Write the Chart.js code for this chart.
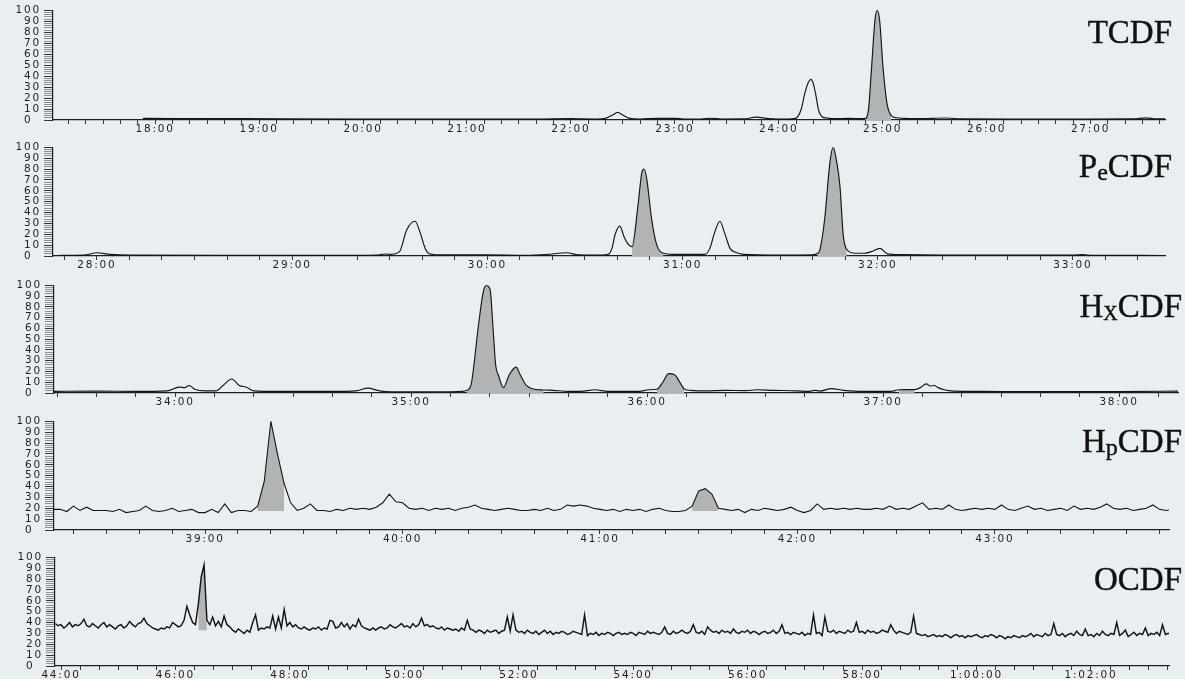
<!DOCTYPE html>
<html>
<head>
<meta charset="utf-8">
<script src="https://cdn.jsdelivr.net/npm/chart.js@4.4.1/dist/chart.umd.min.js"></script>
<style>
  html, body { margin: 0; padding: 0; background: #e9eef1; overflow: hidden; }
  #page { position: relative; width: 1185px; height: 679px; }
  #page canvas { position: absolute; left: 0; }
  .name {
    position: absolute;
    font-family: "Liberation Serif", "Times New Roman", serif;
    font-size: 33px;
    line-height: 33px;
    color: #111;
    -webkit-text-stroke: 0.4px #111;
    white-space: nowrap;
  }
  .name span { font-size: 24px; position: relative; top: 3px; }
  .name span.x { font-size: 20px; }
</style>
</head>
<body>
<div id="page">
  <canvas id="chart1"></canvas>
  <canvas id="chart2"></canvas>
  <canvas id="chart3"></canvas>
  <canvas id="chart4"></canvas>
  <canvas id="chart5"></canvas>
  <div class="name" style="right:13px; top:16px">TCDF</div>
  <div class="name" style="right:13px; top:150px">P<span>e</span>CDF</div>
  <div class="name" style="right:3px; top:290px">H<span class="x">X</span>CDF</div>
  <div class="name" style="right:3px; top:425px">H<span>p</span>CDF</div>
  <div class="name" style="right:3px; top:563px">OCDF</div>
</div>
<script>
// retention time in seconds, relative abundance in %
const tcdfTime = [1073, 1130, 1200, 1300, 1320, 1335, 1340, 1344, 1347, 1350, 1354, 1360, 1370, 1380, 1385,
  1395, 1401, 1407, 1420, 1427, 1434, 1445, 1449, 1451, 1453, 1455, 1457, 1458.5, 1460, 1461.5, 1463, 1465,
  1468, 1472, 1480, 1489.8, 1491.7, 1493.6, 1495.5, 1496.8, 1498.3, 1500.2, 1502.5, 1505, 1508, 1512,
  1520, 1537, 1545, 1600, 1645, 1652, 1658, 1665];
const tcdfValue = [1.5, 1.2, 0.8, 0.8, 1.2, 0.8, 1.5, 4.5, 7, 4.5, 1.5, 0.9, 1.5, 1.5, 0.9,
  0.9, 1.6, 0.9, 1, 2.6, 1.3, 0.8, 1.2, 3, 10, 24, 34, 37, 33, 22, 9, 3,
  1.8, 1.3, 1.5, 1.3, 8, 48, 90, 100, 90, 48, 15, 4, 2, 1.5,
  1.2, 1.8, 1.0, 0.9, 1.0, 2.0, 1.0, 1.0];
const tcdfShade = [[1489.8, 1505]];

const pecdfTime = [1668, 1676, 1680, 1684, 1690, 1720, 1760, 1766, 1768.5, 1770, 1773, 1775.2, 1777.8, 1779.3,
  1780.9, 1782.4, 1786, 1800, 1812, 1818, 1824.5, 1828, 1835, 1837.2, 1838.3, 1839.3, 1840.7, 1842, 1843,
  1844.5, 1846.4, 1847.5, 1848.2, 1849, 1850.5, 1852.1, 1854.1, 1857, 1862.8, 1866.8, 1868.4, 1869.9,
  1871.5, 1873, 1874.6, 1876.1, 1878.7, 1890, 1900, 1901.5, 1902.2, 1903.7, 1905.3, 1906.3, 1907.3, 1908.4,
  1909.4, 1910.5, 1913, 1916, 1918, 1920.7, 1923, 1927, 1940, 1980, 1983, 1986, 2010];
const pecdfValue = [0.5, 0.8, 3, 1.5, 0.8, 0.7, 0.6, 0.8, 1.8, 1.5, 4, 24, 32, 22,
  7, 1.8, 1, 1, 0.6, 1.3, 3, 1.0, 0.8, 1.5, 7, 20, 27.5, 18, 12,
  8.5, 49, 77, 80, 71, 34, 10, 2.5, 1.5, 1.5, 1.5, 7, 22,
  32, 20.6, 7, 3.6, 1.5, 0.8, 1, 2.5, 5.5, 34, 86, 100, 88, 64,
  19, 6, 2.5, 2.5, 4, 7, 2, 1.2, 0.8, 0.8, 1.3, 0.6, 0.5];
const pecdfShade = [[1844.5, 1854.1], [1901.5, 1910.5]];

const hxcdfTime = [2009, 2020, 2030, 2038, 2041, 2042.5, 2043.5, 2045, 2047.5, 2050.5, 2052.2, 2054.4, 2056.3,
  2058, 2060, 2066, 2080, 2086, 2089, 2092, 2095, 2110, 2113, 2114.2, 2115.2, 2117.1, 2118.3, 2119.1, 2120.1,
  2120.8, 2121.5, 2122.2, 2123.5, 2124.9, 2126.7, 2127.8, 2129.3, 2130.8, 2133.7, 2136, 2140, 2143, 2146.8,
  2150, 2158, 2160.4, 2162.5, 2164, 2165.5, 2167, 2168.5, 2169.5, 2171, 2175, 2180, 2185, 2188, 2192, 2198,
  2201, 2202.5, 2204, 2206.8, 2210, 2215, 2222, 2224, 2228, 2229.5, 2231, 2232, 2233, 2234, 2235.5, 2238,
  2245, 2260, 2280, 2296];
const hxcdfValue = [1.5, 1.8, 1.5, 2, 5.5, 5, 7, 3.5, 2, 2, 7, 13, 7,
  5.5, 2, 1.5, 1.5, 2, 4.5, 2, 1.2, 1.2, 1.5, 2.5, 7, 62, 93, 100, 96,
  62, 26, 16.5, 5, 16.5, 24, 16.5, 7, 4, 2.8, 2.5, 1.5, 1.5, 3,
  1.5, 1.5, 3, 3.5, 10, 18, 17, 9, 3.5, 2.5, 2, 2.5, 2.2, 3, 2.5, 2,
  1.5, 2.5, 1.8, 4, 2.5, 1.5, 1.5, 3, 3.2, 5, 8.5, 6.5, 7, 5, 3, 1.8,
  1.5, 1.3, 1.3, 1.8];
const hxcdfShade = [[2114.2, 2133.7], [2162.5, 2169.5], [2224, 2228]];

// HpCDF trace, one reading every 2 s from 2294 s
const hpcdfStart = 2294;
const hpcdfStep = 2;
const hpcdfValue = [19, 19, 17, 22, 18, 21, 18, 18, 18, 17, 19, 16, 17, 18, 22, 18, 17, 18, 20, 17,
  18, 19, 16, 16, 19, 16, 24, 16, 18, 18, 17, 22, 45, 100, 70, 43, 25, 18, 20, 24,
  18, 18, 17, 19, 18, 20, 19, 20, 19, 21, 25, 33, 26, 25, 20, 19, 20, 18, 20, 19,
  20, 18, 20, 21, 23, 20, 19, 18, 19, 20, 19, 18, 18, 19, 18, 20, 18, 19, 23, 22,
  23, 22, 20, 19, 18, 19, 17, 19, 18, 19, 17, 19, 20, 18, 17, 17, 18, 22, 36, 38,
  33, 20, 19, 18, 19, 16, 19, 18, 20, 19, 18, 19, 21, 18, 16, 18, 24, 19, 20, 19,
  20, 19, 20, 19, 19, 20, 19, 22, 19, 20, 19, 22, 25, 19, 20, 19, 23, 19, 18, 19,
  20, 19, 20, 19, 23, 19, 18, 20, 22, 19, 20, 18, 19, 20, 18, 22, 19, 20, 19, 21,
  24, 20, 19, 20, 18, 19, 20, 23, 19, 18, 19];
const hpcdfShade = [[2356, 2364], [2488, 2496]];

// OCDF trace, one reading every 3 s from 2634 s
const ocdfStart = 2634;
const ocdfStep = 3;
const ocdfValue = [39, 37, 38, 35, 37, 40, 36, 38, 37, 39, 43, 37, 36, 39, 37, 35, 38, 40, 36, 38,
  36, 34, 37, 38, 35, 37, 41, 38, 36, 39, 40, 44, 39, 37, 35, 34, 33, 35, 34, 36,
  35, 40, 38, 36, 37, 42, 55, 47, 40, 38, 57, 82, 93, 42, 38, 45, 37, 41, 36, 46,
  38, 36, 33, 31, 34, 32, 30, 33, 31, 40, 47, 33, 35, 34, 36, 35, 46, 34, 45, 35,
  52, 37, 40, 36, 38, 35, 34, 36, 34, 33, 35, 34, 36, 33, 35, 34, 42, 41, 35, 36,
  40, 36, 39, 34, 38, 36, 43, 37, 35, 34, 33, 35, 33, 35, 36, 34, 35, 38, 36, 35,
  37, 39, 36, 37, 35, 39, 36, 38, 44, 37, 38, 36, 37, 35, 34, 36, 33, 35, 34, 33,
  34, 32, 35, 33, 42, 34, 33, 31, 33, 32, 30, 33, 31, 32, 33, 30, 32, 33, 45, 32,
  47, 33, 31, 32, 30, 33, 31, 30, 32, 29, 31, 33, 30, 32, 29, 31, 30, 32, 31, 29,
  30, 32, 31, 30, 29, 47, 28, 30, 29, 31, 28, 30, 29, 31, 30, 28, 30, 31, 29, 30,
  29, 31, 30, 28, 31, 30, 29, 32, 30, 31, 30, 29, 31, 36, 30, 29, 32, 30, 31, 33,
  31, 30, 32, 38, 31, 30, 32, 29, 36, 33, 31, 32, 30, 33, 31, 32, 30, 34, 31, 30,
  32, 31, 33, 30, 32, 31, 29, 31, 32, 30, 31, 33, 30, 32, 38, 30, 31, 29, 31, 30,
  29, 31, 28, 30, 29, 47, 30, 31, 28, 45, 32, 31, 33, 30, 32, 31, 30, 33, 31, 32,
  40, 31, 32, 30, 33, 31, 32, 30, 31, 33, 32, 31, 38, 33, 30, 32, 31, 30, 29, 31,
  46, 30, 29, 28, 29, 27, 28, 29, 27, 28, 27, 29, 28, 26, 28, 29, 27, 28, 26, 28,
  27, 28, 29, 27, 26, 28, 27, 29, 28, 26, 28, 27, 25, 27, 26, 28, 27, 26, 28, 27,
  28, 30, 27, 29, 28, 27, 30, 28, 29, 39, 29, 28, 30, 27, 29, 30, 28, 32, 29, 28,
  34, 28, 29, 27, 30, 28, 32, 29, 28, 30, 29, 40, 28, 30, 33, 27, 29, 31, 28, 30,
  29, 35, 28, 30, 29, 31, 28, 38, 29, 30, 29];
const ocdfShade = [[2784, 2793]];

const hpcdfTime = hpcdfValue.map((v, i) => hpcdfStart + i * hpcdfStep);
const ocdfTime = ocdfValue.map((v, i) => ocdfStart + i * ocdfStep);

const panels = [
  { id: 'chart1', time: tcdfTime, value: tcdfValue, shade: tcdfShade, base: 0, smooth: true, line: 1.15,
    min: 1021, max: 1663, step: 10, every: 60, top: 9, bottom: 120, left: 53, right: 1165 },
  { id: 'chart2', time: pecdfTime, value: pecdfValue, shade: pecdfShade, base: 0, smooth: true, line: 1.15,
    min: 1666.5, max: 2008.3, step: 10, every: 60, top: 146, bottom: 256, left: 53, right: 1165 },
  { id: 'chart3', time: hxcdfTime, value: hxcdfValue, shade: hxcdfShade, base: 0, smooth: true, line: 1.15,
    min: 2009.2, max: 2295, step: 10, every: 60, top: 284, bottom: 393, left: 54, right: 1178 },
  { id: 'chart4', time: hpcdfTime, value: hpcdfValue, shade: hpcdfShade, base: 17.5, smooth: false, line: 1.1,
    min: 2294.1, max: 2632.9, step: 10, every: 60, top: 420, bottom: 530, left: 54, right: 1169 },
  { id: 'chart5', time: ocdfTime, value: ocdfValue, shade: ocdfShade, base: 33, smooth: false, line: 1.45,
    min: 2633.7, max: 3801.8, step: 20, every: 120, top: 556, bottom: 666, left: 55, right: 1169 }
];

function clock(sec) {
  const m = Math.round(sec / 60);
  if (m >= 60) return Math.floor(m / 60) + ':' + String(m % 60).padStart(2, '0') + ':00';
  return m + ':00';
}

// wide tracking for the axis numbers
const spacing = {
  id: 'spacing',
  beforeUpdate(chart) { chart.ctx.letterSpacing = '1.8px'; },
  beforeDraw(chart) { chart.ctx.letterSpacing = '1.8px'; }
};

const tickFont = { family: 'DejaVu Sans', size: 10.5 };

panels.forEach(p => {
  const canvas = document.getElementById(p.id);
  canvas.width = 1185;
  canvas.height = (p.bottom - p.top) + 26;
  canvas.style.top = (p.top - 8) + 'px';

  const points = p.time.map((t, i) => ({ x: t, y: p.value[i] }));
  const mode = p.smooth ? 'monotone' : 'default';

  const datasets = [{
    data: points,
    borderColor: '#141414',
    borderWidth: p.line,
    pointRadius: 0,
    fill: false,
    tension: 0,
    cubicInterpolationMode: mode
  }];
  p.shade.forEach(([a, b]) => {
    datasets.push({
      data: points.filter(d => d.x >= a && d.x <= b),
      borderWidth: 0,
      pointRadius: 0,
      backgroundColor: '#b1b3b5',
      fill: p.base === 0 ? 'origin' : { value: p.base },
      tension: 0,
      cubicInterpolationMode: mode
    });
  });

  new Chart(canvas, {
    type: 'line',
    data: { datasets },
    options: {
      responsive: false,
      animation: false,
      devicePixelRatio: 1,
      layout: { padding: { top: 8, left: 0, right: 1185 - p.right, bottom: 0 } },
      plugins: { legend: { display: false }, tooltip: { enabled: false } },
      scales: {
        x: {
          type: 'linear',
          min: p.min,
          max: p.max,
          border: { color: '#1e1e1e', width: 1.2 },
          grid: { drawOnChartArea: false, tickLength: 4, tickColor: '#333' },
          ticks: {
            stepSize: p.step,
            autoSkip: false,
            maxRotation: 0,
            includeBounds: false,
            padding: -1,
            color: '#1f1f1f',
            font: tickFont,
            callback: v => (v % p.every === 0 ? clock(v) : '')
          },
          afterFit: s => { s.height = 18; }
        },
        y: {
          min: 0,
          max: 100,
          border: { color: '#1e1e1e', width: 1.2 },
          grid: {
            drawOnChartArea: false,
            tickLength: 9,
            tickColor: c => (c.tick && c.tick.value % 10 === 0 ? '#333' : '#8f9193')
          },
          ticks: {
            stepSize: 2,
            autoSkip: false,
            padding: 3,
            color: '#1f1f1f',
            font: tickFont,
            callback: v => (v % 10 === 0 ? (v === 0 ? '0\u2007' : String(v)) : '')
          },
          afterFit: s => { s.width = p.left; }
        }
      }
    },
    plugins: [spacing]
  });
});
</script>
</body>
</html>
